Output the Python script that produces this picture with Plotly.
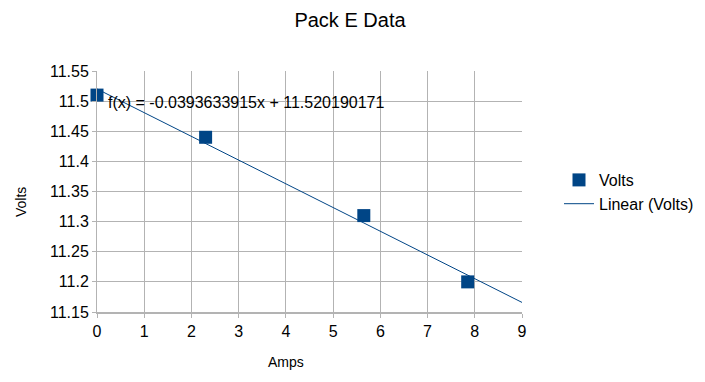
import plotly.graph_objects as go

amps = [0.0, 2.3, 5.65, 7.85]
volts = [11.51, 11.44, 11.31, 11.20]
slope = -0.0393633915
intercept = 11.520190171
fit_x = [0, 9]
y_tick_vals = [11.15, 11.2, 11.25, 11.3, 11.35, 11.4, 11.45, 11.5, 11.55]
y_tick_text = ["11.15", "11.2", "11.25", "11.3", "11.35", "11.4", "11.45", "11.5", "11.55"]
x_tick_vals = [0, 1, 2, 3, 4, 5, 6, 7, 8, 9]

color = "#004586"
grid = "#b3b3b3"
font = "Liberation Sans, Arial, sans-serif"

L, R, T, B = 97, 183, 71, 70
W, H = 705, 382


def px(xp):
    return (xp - L) / (W - L - R)


def py(yp):
    return (H - B - yp) / (H - T - B)


fig = go.Figure()
fig.add_trace(go.Scatter(x=amps, y=volts, mode="markers", name="Volts", cliponaxis=False,
                         marker=dict(symbol="square", size=13, color=color)))
fig.add_trace(go.Scatter(x=fit_x, y=[intercept + slope * v for v in fit_x], mode="lines",
                         name="Linear (Volts)", line=dict(color=color, width=1)))

fig.add_annotation(x=px(106), y=py(102), xref="paper", yref="paper", xanchor="left", yanchor="middle",
                   text=f"f(x) = {slope}x + {intercept}", showarrow=False,
                   font=dict(size=16, color="black", family=font))
fig.add_annotation(x=px(286), y=py(362), xref="paper", yref="paper", xanchor="center", yanchor="middle",
                   text="Amps", showarrow=False, font=dict(size=14, color="black", family=font))
fig.add_annotation(x=px(21), y=py(202), xref="paper", yref="paper", xanchor="center", yanchor="middle",
                   text="Volts", textangle=-90, showarrow=False,
                   font=dict(size=14, color="black", family=font))

fig.update_layout(
    width=W, height=H,
    margin=dict(l=L, r=R, t=T, b=B, autoexpand=False),
    paper_bgcolor="white", plot_bgcolor="white",
    font=dict(family=font, color="black"),
    title=dict(text="Pack E Data", x=px(350), xref="paper", xanchor="center",
               y=(H - 20) / H, yanchor="middle",
               font=dict(size=20, color="black", family=font)),
    showlegend=True,
    legend=dict(x=px(559), y=py(192), xanchor="left", yanchor="middle",
                font=dict(size=16, color="black"), bgcolor="rgba(0,0,0,0)"),
)
fig.update_xaxes(range=[0, 9], tickvals=x_tick_vals, showgrid=True, gridcolor=grid,
                 showline=True, linecolor=grid, linewidth=2, zeroline=False,
                 ticks="outside", ticklen=4, tickcolor=grid, automargin=False,
                 tickfont=dict(size=16, color="black"))
fig.update_yaxes(range=[11.15, 11.55], tickvals=y_tick_vals, ticktext=y_tick_text,
                 showgrid=True, gridcolor=grid, showline=True, linecolor=grid, linewidth=1,
                 zeroline=False, ticks="outside", ticklen=4, tickcolor=grid, automargin=False,
                 tickfont=dict(size=16, color="black"))

fig.write_html("out.html", config={"displayModeBar": False},
               post_script="document.body.style.margin='0';")
